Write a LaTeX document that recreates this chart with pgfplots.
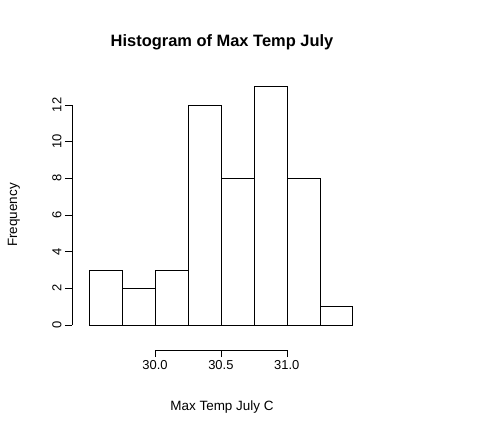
\documentclass[border=0pt]{standalone}
\usepackage{pgfplots}
\pgfplotsset{compat=1.18}
\usepackage{fontspec}
\setmainfont{Liberation Sans}
\begin{document}
\begin{tikzpicture}
\useasboundingbox (-72bp,-83bp) rectangle (405bp,350bp);
\begin{axis}[at={(0,0)},anchor=south west,scale only axis,width=307bp,height=269bp,
  xmin=29.37,xmax=31.7,ymin=-1.36,ymax=13.3,
  axis x line*=bottom, axis y line*=left, axis line style={draw=none},
  xtick={30,30.5,31}, xticklabels={30.0,30.5,31.0},
  ytick={0,2,4,6,8,10,12},
  tick align=outside, major tick length=7bp, tick style={black,thin},
  /pgf/number format/assume math mode=true,
  ticklabel style={font=\fontsize{13}{15}\selectfont},
  yticklabel style={rotate=90,anchor=south},
  clip=false]
\addplot[ybar interval, draw=black, fill=white, thin] coordinates {(29.5,3)(29.75,2)(30,3)(30.25,12)(30.5,8)(30.75,13)(31,8)(31.25,1)(31.5,1)};
\draw[thin] (axis cs:30,-1.36) -- (axis cs:31,-1.36);
\draw[thin] (axis cs:29.37,0) -- (axis cs:29.37,12);
\end{axis}
\node[font=\bfseries\fontsize{16.5}{19}\selectfont] at (150bp,308bp) {Histogram of Max Temp July};
\node[font=\fontsize{13.5}{15}\selectfont] at (150bp,-57bp) {Max Temp July C};
\node[font=\fontsize{13.5}{15}\selectfont,rotate=90] at (-58bp,135bp) {Frequency};
\end{tikzpicture}
\end{document}
